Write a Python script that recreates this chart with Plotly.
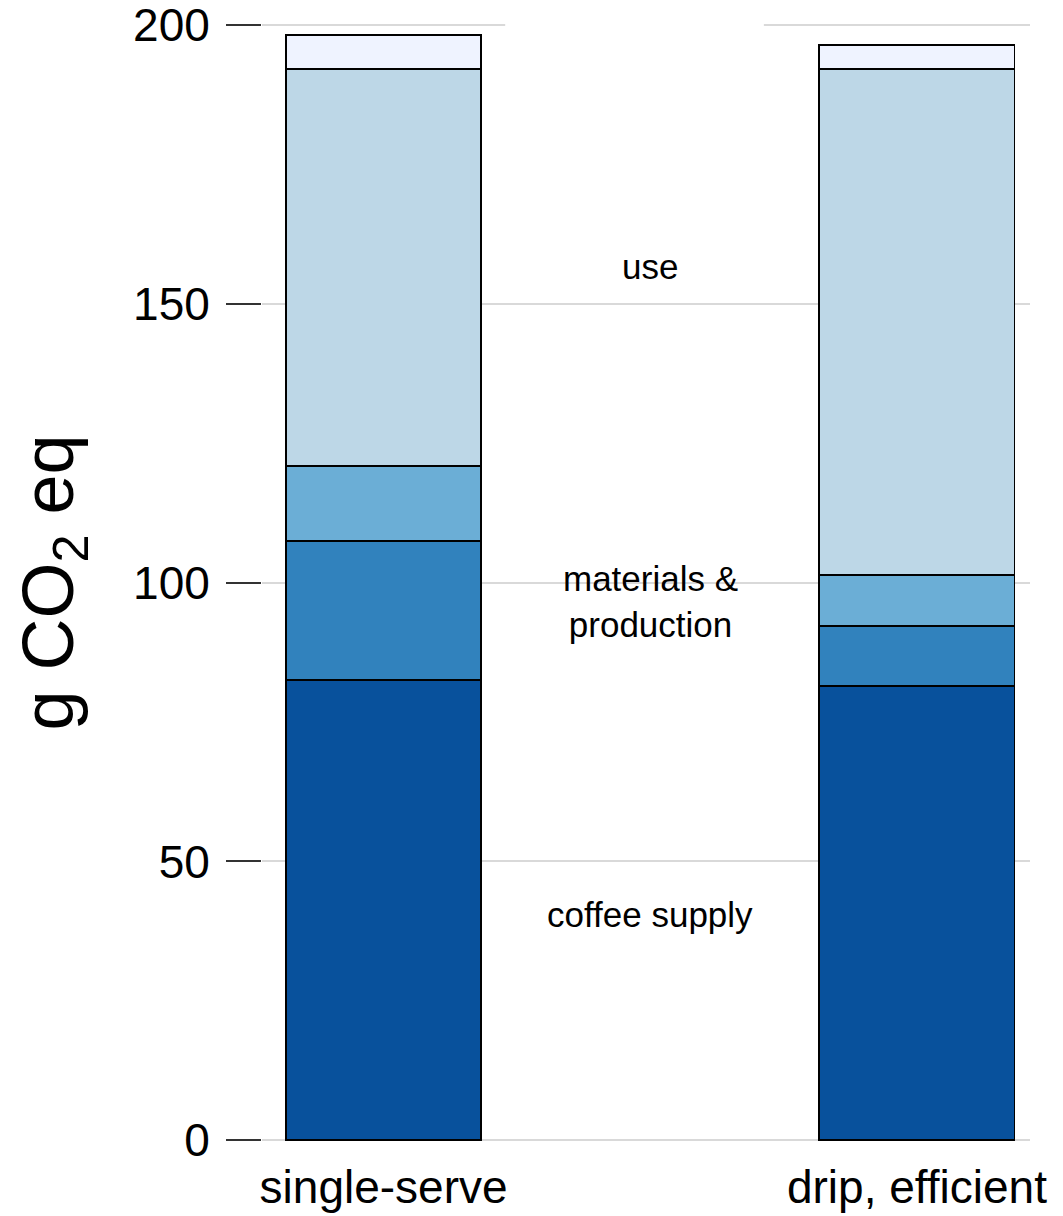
import plotly.graph_objects as go

# brewing methods on the x axis
methods = ['single-serve', 'drip, efficient']

# stacked contributions, g CO2 eq (bottom to top)
coffee_supply = [82.5, 81.4]
materials = [24.9, 10.8]
production = [13.5, 9.1]
use_phase = [71.2, 90.8]
end_of_life = [6.1, 4.3]

segments = [
    ('coffee supply', coffee_supply, '#08519c'),
    ('materials', materials, '#3182bd'),
    ('production', production, '#6baed6'),
    ('use', use_phase, '#bdd7e7'),
    ('end of life', end_of_life, '#eff3ff'),
]

# in-chart labels and where they sit on the y scale
label_text = ['use', 'materials &<br>production', 'coffee supply']
label_y = [156.7, 96.6, 40.5]

FONT = 'Liberation Sans, Arial, sans-serif'

fig = go.Figure()
for name, vals, color in segments:
    fig.add_trace(go.Bar(
        x=[0, 1], y=vals, name=name,
        width=0.366,
        marker=dict(color=color, line=dict(color='black', width=1.8)),
        showlegend=False,
    ))

for txt, yv in zip(label_text, label_y):
    fig.add_annotation(x=0.5, y=yv, text=txt, showarrow=False,
                       font=dict(family=FONT, size=35, color='black'))

# gap in the top gridline seen in the original
fig.add_shape(type='rect', xref='x', yref='paper', x0=0.228, x1=0.713,
              y0=0.99, y1=1.02, fillcolor='white', line=dict(width=0),
              layer='above')

# the page body adds an 8px offset, so the figure is sized 8px smaller
fig.update_layout(
    barmode='stack',
    width=1055, height=1208,
    margin=dict(l=254, r=33, t=15, b=74),
    plot_bgcolor='white', paper_bgcolor='white',
    font=dict(family=FONT, color='black'),
    xaxis=dict(
        range=[-0.228, 1.212],
        tickvals=[0, 1], ticktext=methods,
        tickfont=dict(size=46, color='black'),
        showgrid=False, zeroline=False, showline=False, ticks='',
        ticklabelstandoff=14, automargin=False,
    ),
    yaxis=dict(
        range=[-0.3, 200.3],
        tickvals=[0, 50, 100, 150, 200],
        tickfont=dict(size=46, color='black'),
        ticks='outside', ticklen=35, tickwidth=2, tickcolor='#333333',
        showgrid=True, gridcolor='#d9d9d9', gridwidth=2,
        zeroline=False, showline=False,
        ticklabeloverflow='allow', automargin=False,
        ticklabelstandoff=7,
        title=dict(text='g CO<sub>2</sub> eq', standoff=45,
                   font=dict(size=72, color='black')),
    ),
)

fig.write_html('out.html')
